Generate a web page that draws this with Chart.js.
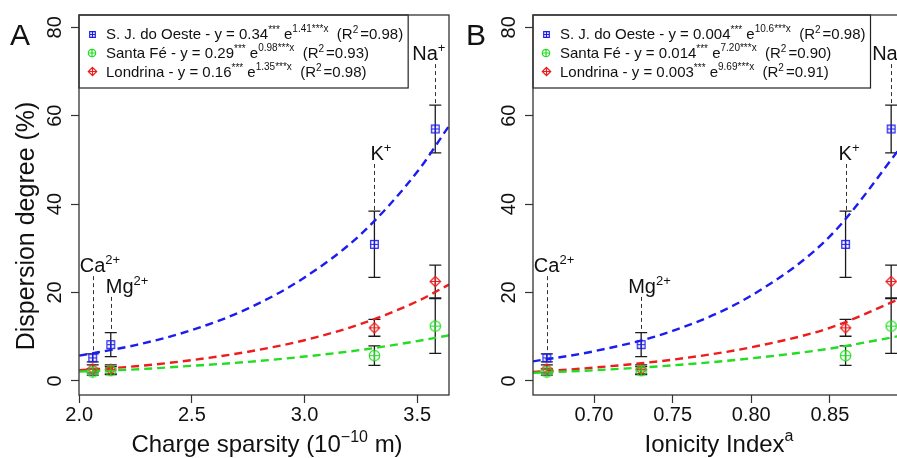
<!DOCTYPE html>
<html><head><meta charset="utf-8">
<script src="https://cdn.jsdelivr.net/npm/chart.js@4.4.0/dist/chart.umd.min.js"></script>
<style>
html,body{margin:0;padding:0;background:#fff;overflow:hidden;}
#wrap{position:relative;width:897px;height:458px;overflow:hidden;background:#fff;}
#cA{position:absolute;left:0;top:0;}
#cB{position:absolute;left:456px;top:0;}
</style></head><body>
<div id="wrap"><canvas id="cA" width="456" height="458"></canvas><canvas id="cB" width="456" height="458"></canvas></div>
<script>
// ---------------- data ----------------
const ions = ['Ca', 'Mg', 'K', 'Na'];
const ionCharges = ['2+', '2+', '+', '+'];
const chargeSparsity = [2.06, 2.14, 3.31, 3.58];
const ionicityIndex = [0.670, 0.730, 0.860, 0.889];
const seriesNames = ['S. J. do Oeste', 'Santa Fé', 'Londrina'];
const sjOeste = [5.2, 8.2, 30.9, 57.0];
const sjOesteErr = [0.9, 2.7, 7.5, 5.4];
const santaFe = [2.0, 2.3, 5.7, 12.4];
const santaFeErr = [0.7, 0.9, 2.2, 6.2];
const londrina = [2.7, 2.6, 12.0, 22.5];
const londrinaErr = [0.9, 1.0, 1.9, 3.7];
// fitted curves
const fitXA = [2.0, 2.25, 2.5, 2.75, 3.0, 3.25, 3.5, 3.641];
const fitSjA = [5.7, 8.1, 11.5, 16.4, 23.4, 33.2, 47.3, 57.7];
const fitSfA = [2.1, 2.6, 3.4, 4.3, 5.5, 7.0, 9.0, 10.3];
const fitLoA = [2.4, 3.3, 4.7, 6.6, 9.2, 12.9, 18.0, 21.8];
const fitXB = [0.661, 0.70, 0.75, 0.80, 0.85, 0.898];
const fitSjB = [4.4, 6.7, 11.3, 19.3, 32.7, 54.2];
const fitSfB = [1.8, 2.4, 3.5, 5.1, 7.3, 10.4];
const fitLoB = [2.0, 3.0, 4.8, 7.6, 12.0, 19.1];
// legend equations
const coefA = ['0.34', '0.29', '0.16'];
const rateA = ['1.41', '0.98', '1.35'];
const r2A = ['0.98', '0.93', '0.98'];
const coefB = ['0.004', '0.014', '0.003'];
const rateB = ['10.6', '7.20', '9.69'];
const r2B = ['0.98', '0.90', '0.91'];
// ticks
const xTicksA = [2.0, 2.5, 3.0, 3.5];
const xTicksB = [0.70, 0.75, 0.80, 0.85];
const yTicks = [0, 20, 40, 60, 80];

// ---------------- style ----------------
const F = '"Liberation Sans", Arial, Helvetica, sans-serif';
const BLUE = '#1c1cf0', GREEN = '#22dd22', RED = '#ee1c1c', INK = '#1a1a1a';

function marker(shape, color, n) {
  const c = document.createElement('canvas'); c.width = n; c.height = n;
  const g = c.getContext('2d'); g.strokeStyle = color; g.lineWidth = 1.2;
  const m = n / 2, h = n / 2 - 1.3;
  g.beginPath();
  if (shape === 'square') { g.rect(m - h + 0.4, m - h + 0.4, 2 * h - 0.8, 2 * h - 0.8); }
  else if (shape === 'circle') { g.arc(m, m, h, 0, Math.PI * 2); }
  else { g.moveTo(m, m - h); g.lineTo(m + h, m); g.lineTo(m, m + h); g.lineTo(m - h, m); g.closePath(); }
  g.moveTo(m - h, m); g.lineTo(m + h, m); g.moveTo(m, m - h); g.lineTo(m, m + h);
  g.stroke();
  return c;
}
const mk = {
  sj: marker('square', BLUE, 11), sf: marker('circle', GREEN, 13), lo: marker('diamond', RED, 13),
  sjS: marker('square', BLUE, 9), sfS: marker('circle', GREEN, 10), loS: marker('diamond', RED, 11)
};

function drawRich(ctx, segs, x, y, align) {
  let w = 0;
  segs.forEach(s => { ctx.font = s.f; s.w = ctx.measureText(s.t).width; w += s.w + (s.gap || 0); });
  let cx = align === 'center' ? x - w / 2 : x;
  ctx.textAlign = 'left'; ctx.textBaseline = 'alphabetic';
  segs.forEach(s => { ctx.font = s.f; ctx.fillText(s.t, cx, y - (s.dy || 0)); cx += s.w + (s.gap || 0); });
  return w;
}

function legendRows(coef, rate, r2) {
  const f15 = '15px ' + F, f10 = '10px ' + F;
  return seriesNames.map((n, i) => [
    {t: n + ' - y = ' + coef[i], f: f15},
    {t: '***', f: f10, dy: 6},
    {t: ' e', f: f15},
    {t: rate[i] + '***x', f: f10, dy: 7},
    {t: '  (R', f: f15},
    {t: '2', f: f10, dy: 6, gap: 2},
    {t: '=' + r2[i] + ')', f: f15}
  ]);
}

const panelCfg = {
  cA: {
    letter: 'A', xs: chargeSparsity,
    labelY: [24.6, 19.9, 50.0, 72.6], dx: [-13, -5, -4, -23],
    legend: legendRows(coefA, rateA, r2A),
    xTitle: [{t: 'Charge sparsity (10', f: '24px ' + F}, {t: '\u221210', f: '16px ' + F, dy: 10}, {t: ' m)', f: '24px ' + F}],
    xTitleShift: 3, yTitle: 'Dispersion degree (%)'
  },
  cB: {
    letter: 'B', xs: ionicityIndex,
    labelY: [24.6, 19.9, 50.0, 72.6], dx: [-13, -13, -7, -19],
    legend: legendRows(coefB, rateB, r2B),
    xTitle: [{t: 'Ionicity Index', f: '24px ' + F}, {t: 'a', f: '16px ' + F, dy: 11}],
    xTitleShift: 0, yTitle: null
  }
};

const panelPlugin = {
  id: 'panel',
  beforeDatasetsDraw(chart) {
    const {ctx, scales: {x, y}} = chart;
    ctx.save(); ctx.strokeStyle = INK; ctx.lineWidth = 1.3;
    chart.data.datasets.forEach(ds => {
      if (!ds.err) return;
      ds.data.forEach((p, i) => {
        const px = x.getPixelForValue(p.x);
        const pt = y.getPixelForValue(p.y + ds.err[i]);
        const pb = y.getPixelForValue(p.y - ds.err[i]);
        ctx.beginPath();
        ctx.moveTo(px, pt); ctx.lineTo(px, pb);
        ctx.moveTo(px - 6, pt); ctx.lineTo(px + 6, pt);
        ctx.moveTo(px - 6, pb); ctx.lineTo(px + 6, pb);
        ctx.stroke();
      });
    });
    ctx.restore();
  },
  afterDatasetsDraw(chart) {
    const o = panelCfg[chart.canvas.id];
    const {ctx, scales: {x, y}} = chart;
    ctx.save();
    ions.forEach((ion, i) => {
      const px = x.getPixelForValue(o.xs[i]);
      let top = -Infinity;
      chart.data.datasets.forEach(ds => { if (ds.err) top = Math.max(top, ds.data[i].y + ds.err[i]); });
      const by = y.getPixelForValue(o.labelY[i]);
      ctx.strokeStyle = '#333'; ctx.lineWidth = 1; ctx.setLineDash([4, 3]);
      ctx.beginPath(); ctx.moveTo(Math.round(px) + 0.5, by + 4); ctx.lineTo(Math.round(px) + 0.5, y.getPixelForValue(top) - 1); ctx.stroke();
      ctx.setLineDash([]);
      ctx.fillStyle = '#111';
      drawRich(ctx, [{t: ion, f: '20px ' + F}, {t: ionCharges[i], f: '13px ' + F, dy: 8}], px + o.dx[i], by, 'left');
    });
    ctx.restore();
  },
  afterDraw(chart) {
    const o = panelCfg[chart.canvas.id];
    const {ctx, chartArea: a} = chart;
    ctx.save();
    // legend
    const L = a.left, T = a.top;
    let maxW = 0;
    o.legend.forEach(segs => {
      let w = 0; segs.forEach(s => { ctx.font = s.f; w += ctx.measureText(s.t).width + (s.gap || 0); });
      maxW = Math.max(maxW, w);
    });
    const boxW = 27 + maxW + 5;
    ctx.fillStyle = '#fff'; ctx.fillRect(L, T, boxW, 73);
    ctx.strokeStyle = '#222'; ctx.lineWidth = 1.2; ctx.strokeRect(L, T, boxW, 73);
    const icons = [mk.sjS, mk.sfS, mk.loS];
    const rowsY = [19, 38, 56.5];
    o.legend.forEach((segs, i) => {
      const ic = icons[i];
      ctx.drawImage(ic, Math.round(L + 13 - ic.width / 2), Math.round(T + rowsY[i] - ic.height / 2));
      ctx.fillStyle = '#111';
      drawRich(ctx, segs, L + 27, T + rowsY[i] + 5.3, 'left');
    });
    // plot box
    ctx.strokeStyle = '#333'; ctx.lineWidth = 1.3;
    ctx.strokeRect(a.left, a.top, a.right - a.left, a.bottom - a.top);
    // panel letter
    ctx.fillStyle = '#111'; ctx.font = '30px ' + F; ctx.textAlign = 'left'; ctx.textBaseline = 'alphabetic';
    ctx.fillText(o.letter, 10, 45);
    // x title
    drawRich(ctx, o.xTitle, (a.left + a.right) / 2 + o.xTitleShift, 452, 'center');
    // y title
    if (o.yTitle) {
      ctx.save(); ctx.translate(34, (a.top + a.bottom) / 2 + 21); ctx.rotate(-Math.PI / 2);
      ctx.font = '25px ' + F; ctx.textAlign = 'center'; ctx.textBaseline = 'alphabetic';
      ctx.fillText(o.yTitle, 0, 0); ctx.restore();
    }
    ctx.restore();
  }
};

function pts(xs, ys) { return xs.map((v, i) => ({x: v, y: ys[i]})); }

function makeChart(id, xs, xMin, xMax, xTicks, fmt, fits, fitX, yAxisW, padRight) {
  const pointDs = (label, vals, err, img) => ({
    label, data: pts(xs, vals), err, showLine: false, pointStyle: img, pointRadius: 6, order: 0
  });
  const curveDs = (vals, color) => ({
    data: pts(fitX, vals), showLine: true, borderColor: color, borderWidth: 2.4, borderDash: [8, 5],
    pointRadius: 0, cubicInterpolationMode: 'monotone', fill: false, order: 5
  });
  return new Chart(document.getElementById(id), {
    type: 'scatter',
    data: {
      datasets: [
        pointDs(seriesNames[0], sjOeste, sjOesteErr, mk.sj),
        pointDs(seriesNames[1], santaFe, santaFeErr, mk.sf),
        pointDs(seriesNames[2], londrina, londrinaErr, mk.lo),
        curveDs(fits[0], BLUE), curveDs(fits[1], GREEN), curveDs(fits[2], RED)
      ]
    },
    options: {
      responsive: false, animation: false, devicePixelRatio: 1, events: [],
      layout: {padding: {left: 0, right: padRight, top: 15, bottom: 0}},
      plugins: {legend: {display: false}, tooltip: {enabled: false}},
      scales: {
        x: {
          type: 'linear', min: xMin, max: xMax,
          afterBuildTicks: s => { s.ticks = xTicks.map(v => ({value: v})); },
          ticks: {callback: v => v.toFixed(fmt), font: {family: F, size: 20}, color: '#111', padding: 0, maxRotation: 0, minRotation: 0, autoSkip: false},
          grid: {drawOnChartArea: false, drawTicks: true, tickLength: 8, tickColor: '#333', tickWidth: 1.2},
          border: {display: false},
          afterFit: s => { s.height = 63; s.paddingLeft = 0; s.paddingRight = 0; }
        },
        y: {
          type: 'linear', min: -3.2, max: 82.8,
          afterBuildTicks: s => { s.ticks = yTicks.map(v => ({value: v})); },
          ticks: {callback: v => String(v), font: {family: F, size: 20}, color: '#111', padding: 4, minRotation: 90, maxRotation: 90, crossAlign: 'center', autoSkip: false},
          grid: {drawOnChartArea: false, drawTicks: true, tickLength: 8, tickColor: '#333', tickWidth: 1.2},
          border: {display: false},
          afterFit: s => { s.width = yAxisW; s.paddingTop = 0; s.paddingBottom = 0; }
        }
      }
    },
    plugins: [panelPlugin]
  });
}

makeChart('cA', chargeSparsity, 1.999, 3.641, xTicksA, 1, [fitSjA, fitSfA, fitLoA], fitXA, 79, 5);
makeChart('cB', ionicityIndex, 0.6612, 0.8978, xTicksB, 2, [fitSjB, fitSfB, fitLoB], fitXB, 77, 7);
</script>
</body></html>
